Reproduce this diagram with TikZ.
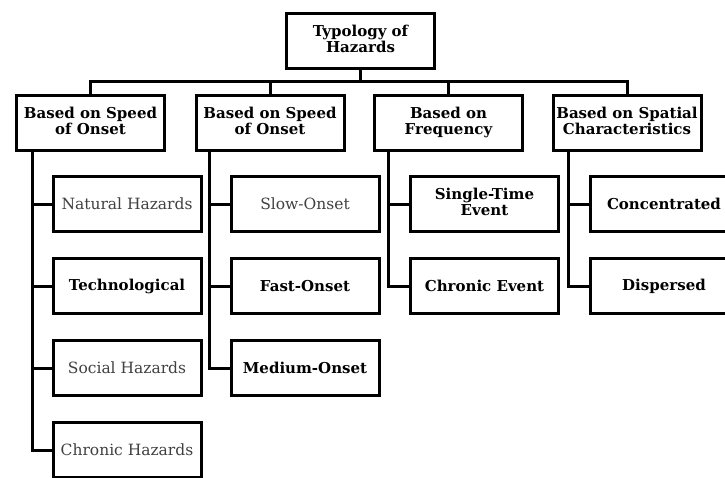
\documentclass[tikz,border=0pt]{standalone}
\usepackage{fontspec}
\setmainfont{DejaVu Serif}
\usetikzlibrary{positioning}
\tikzset{headbox/.style={
    % The shape:
    rectangle,minimum width=148pt,minimum height=55pt,inner sep=1pt,
    % The rest
    line width=3pt,draw=black,
    font=\bfseries\fontsize{15}{15}\selectfont
  },
  itembox/.style={
    rectangle,minimum width=148pt,minimum height=55pt,inner sep=1pt,
    line width=3pt,draw=black,
    font=\bfseries\fontsize{15}{15}\selectfont
  },
  plainitem/.style={itembox,font=\fontsize{15.5}{15}\selectfont,text=black!75},
  link/.style={line width=3pt}
}

\begin{document}
\begin{tikzpicture}[x=1pt,y=-1pt]
      \useasboundingbox (0,0) rectangle (725,477);
      \clip (0,0) rectangle (725,477);

      % top level
      \node (typology) [headbox] at (360.5,41) {
        \begin{tabular}{@{}c@{}}
          Typology of\\
          Hazards
      \end{tabular}};

      % second level
      \node (speedA) [headbox] at (90.5,123) {
        \begin{tabular}{@{}c@{}}
          Based on Speed\\
          of Onset
      \end{tabular}};
      \node (speedB) [headbox] at (270,123) {
        \begin{tabular}{@{}c@{}}
          Based on Speed\\
          of Onset
      \end{tabular}};
      \node (freq) [headbox] at (448.5,123) {
        \begin{tabular}{@{}c@{}}
          Based on\\
          Frequency
      \end{tabular}};
      \node (spatial) [headbox] at (627,123) {
        \begin{tabular}{@{}c@{}}
          Based on Spatial\\
          Characteristics
      \end{tabular}};

      % first column
      \node (natural) [plainitem] at (127,204) {Natural Hazards};
      \node (techno)  [itembox, below=24pt of natural] {Technological};
      \node (social)  [plainitem, below=24pt of techno] {Social Hazards};
      \node (chronicH) [plainitem, below=24pt of social] {Chronic Hazards};

      % second column
      \node (slow)   [plainitem] at (305,204) {Slow-Onset};
      \node (fast)   [itembox, below=24pt of slow] {Fast-Onset};
      \node (medium) [itembox, below=24pt of fast] {Medium-Onset};

      % third column
      \node (single) [itembox] at (484.5,204) {
        \begin{tabular}{@{}c@{}}
          Single-Time\\
          Event
      \end{tabular}};
      \node (chronicE) [itembox, below=24pt of single] {Chronic Event};

      % fourth column
      \node (concen) [itembox] at (664,204) {Concentrated};
      \node (disp)   [itembox, below=24pt of concen] {Dispersed};

      \draw[link] (typology.south) -- ++(0,11) -| (speedA.north);
      \draw[link] (typology.south) -- ++(0,11) -| (speedB.north);
      \draw[link] (typology.south) -- ++(0,11) -| (freq.north);
      \draw[link] (typology.south) -- ++(0,11) -| (spatial.north);

      \draw[link] ([xshift=17pt]speedA.south west) |- (natural.west);
      \draw[link] ([xshift=17pt]speedA.south west) |- (techno.west);
      \draw[link] ([xshift=17pt]speedA.south west) |- (social.west);
      \draw[link] ([xshift=17pt]speedA.south west) |- (chronicH.west);

      \draw[link] ([xshift=15pt]speedB.south west) |- (slow.west);
      \draw[link] ([xshift=15pt]speedB.south west) |- (fast.west);
      \draw[link] ([xshift=15pt]speedB.south west) |- (medium.west);

      \draw[link] ([xshift=15pt]freq.south west) |- (single.west);
      \draw[link] ([xshift=15pt]freq.south west) |- (chronicE.west);

      \draw[link] ([xshift=16.5pt]spatial.south west) |- (concen.west);
      \draw[link] ([xshift=16.5pt]spatial.south west) |- (disp.west);
    \end{tikzpicture}
\end{document}
